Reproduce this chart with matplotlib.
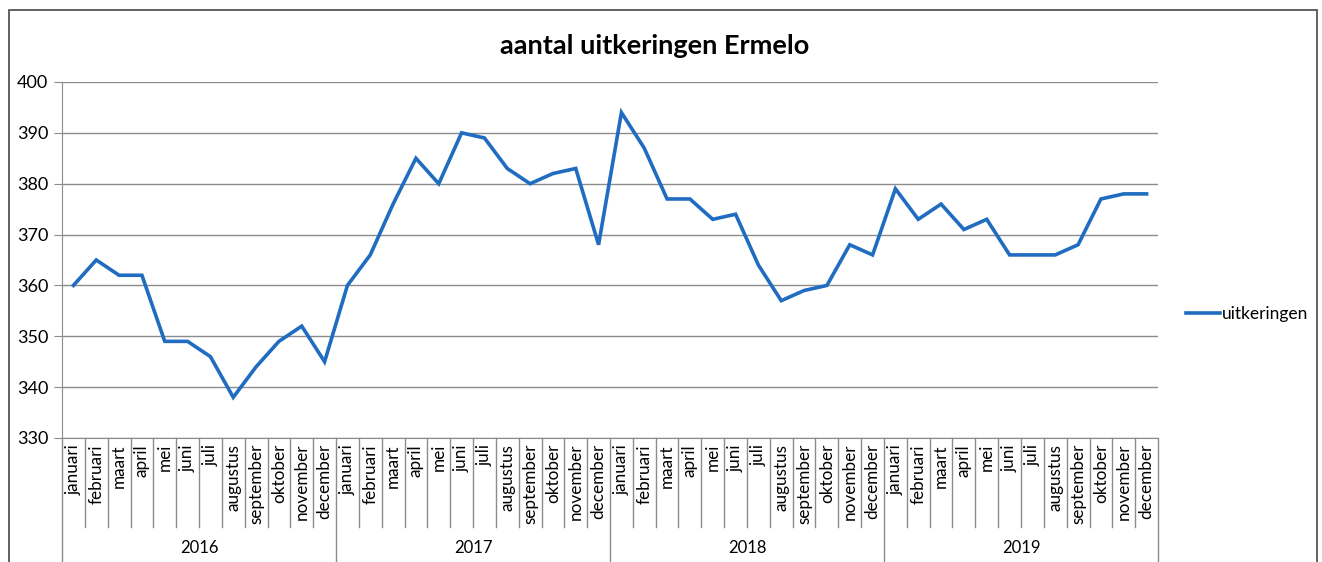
import numpy as np
import matplotlib
matplotlib.use("Agg")
import matplotlib.pyplot as plt
from matplotlib.patches import Rectangle

plt.rcParams['font.family'] = ['Lato', 'DejaVu Sans']

years = ["2016", "2017", "2018", "2019"]
months = ["januari", "februari", "maart", "april", "mei", "juni", "juli",
          "augustus", "september", "oktober", "november", "december"]

uitk_2016 = [360, 365, 362, 362, 349, 349, 346, 338, 344, 349, 352, 345]
uitk_2017 = [360, 366, 376, 385, 380, 390, 389, 383, 380, 382, 383, 368]
uitk_2018 = [394, 387, 377, 377, 373, 374, 364, 357, 359, 360, 368, 366]
uitk_2019 = [379, 373, 376, 371, 373, 366, 366, 366, 368, 377, 378, 378]

values = uitk_2016 + uitk_2017 + uitk_2018 + uitk_2019
labels = months * len(years)
x = np.arange(len(values))

W, H = 1322, 562
fig = plt.figure(figsize=(W / 100, H / 100), dpi=100)
ax = fig.add_axes([62 / W, 1 - 438 / H, (1158 - 62) / W, (438 - 82) / H])

ax.plot(x, values, color="#1f6cc0", lw=2.6, label="uitkeringen", solid_joinstyle="miter")

ax.set_xlim(-0.5, len(values) - 0.5)
ax.set_ylim(330, 400)
ax.set_yticks(np.arange(330, 401, 10))
ax.yaxis.grid(True, color="#8c8c8c", lw=1)
ax.set_axisbelow(True)
ax.tick_params(axis="y", length=6, color="#8c8c8c", labelsize=13, pad=4)
ax.set_xticks([])
for s in ["top", "right"]:
    ax.spines[s].set_visible(False)
ax.spines["left"].set_color("#8c8c8c")
ax.spines["bottom"].set_color("#8c8c8c")

# category axis: month and year separators
trans = ax.get_xaxis_transform()
ax_h = 438 - 82
month_bot = -(527 - 438) / ax_h
year_bot = -(570 - 438) / ax_h
for i in range(len(values) + 1):
    bot = year_bot if i % 12 == 0 else month_bot
    ax.plot([i - 0.5, i - 0.5], [0, bot], transform=trans, color="#8c8c8c",
            lw=1, clip_on=False)
for i, lab in enumerate(labels):
    ax.text(i, -(444 - 438) / ax_h, lab, transform=trans, rotation=90,
            ha="center", va="top", fontsize=12.3)
for k, yr in enumerate(years):
    ax.text(k * 12 + 5.5, -(548 - 438) / ax_h, yr, transform=trans,
            ha="center", va="center", fontsize=12)

fig.text(655 / W, 1 - 46 / H, "aantal uitkeringen Ermelo", ha="center",
         va="center", fontsize=19.5, fontweight="bold")

fig.legend(loc="center left", bbox_to_anchor=(1170 / W, 1 - 314 / H),
           frameon=False, handlelength=2.0, handletextpad=0.1, fontsize=12.5)

fig.patches.append(Rectangle((9 / W, -0.05), (1317 - 9) / W, 1.05 - 10 / H,
                             transform=fig.transFigure, fill=False,
                             edgecolor="#555555", lw=1.3))

fig.savefig("out.png", dpi=100)
